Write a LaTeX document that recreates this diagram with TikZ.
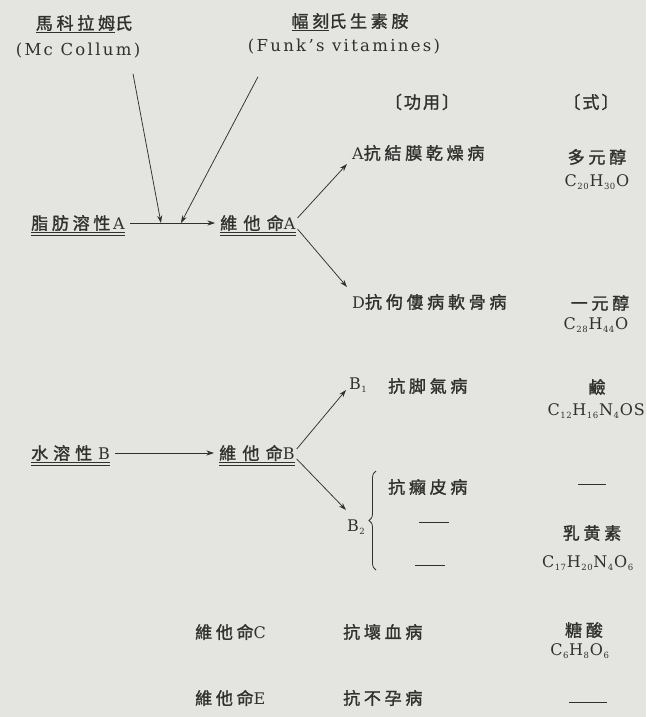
\documentclass[tikz,border=0pt]{standalone}
\usepackage{fontspec}
\usetikzlibrary{arrows.meta,calc,decorations.pathreplacing}
\setmainfont{DejaVu Serif}
\newfontfamily\cjkf{Noto Sans CJK TC}[LetterSpace=22,FakeBold=1.5]
\newfontfamily\cjkwf{Noto Sans CJK TC}[LetterSpace=37,FakeBold=1.5]
\newfontfamily\cjkhf{Noto Sans CJK TC}[LetterSpace=12,FakeBold=1.5]
\newcommand\cjk{\fontsize{17}{20}\selectfont\cjkf}
\newcommand\cjkw{\fontsize{17}{20}\selectfont\cjkwf}
\newcommand\cjkh{\fontsize{17}{20}\selectfont\cjkhf}
\newfontfamily\latf{DejaVu Serif}[LetterSpace=14]
\newcommand\lat{\fontsize{16.5}{19}\selectfont\latf}
\newfontfamily\fml{DejaVu Serif}[LetterSpace=6]
\newcommand\fs{\fontsize{16}{19}\selectfont}
\newcommand\sbs[1]{\kern0.5pt\raisebox{-3.5pt}{\fontsize{8.5}{9}\selectfont\fml #1}\kern0.8pt}
\definecolor{bg}{RGB}{228,228,224}
\definecolor{ink}{RGB}{48,48,46}
\tikzset{
  txt/.style={inner sep=0pt, text=ink, font=\fs},
  lft/.style={txt, anchor=west},
  arr/.style={draw=ink, line width=0.75pt, -{Stealth[length=7.5pt,width=5pt]}},
  ulA/.style={draw=ink, line width=0.9pt},
  ulB/.style={draw=ink, line width=0.6pt},
}
\begin{document}
\begin{tikzpicture}[x=1pt,y=-1pt]
\fill[bg] (0,0) rectangle (646,717);
\useasboundingbox (0,0) rectangle (646,717);

% top sources
\node[txt] (mc)  at (84,24) {\cjk\underline{馬科拉姆}氏};
\node[txt] (mcl) at (78,51) {\lat (Mc Collum)};
\node[txt] (fk)  at (350,22) {\cjk\underline{幅刻}氏生素胺};
\node[txt] (fkl) at (344,47) {\lat (Funk’s vitamines)};

% headers
\node[txt] (hd1) at (422,102) {\cjkh 〔功用〕};
\node[txt] (hd2) at (591,102) {\cjkh 〔式〕};

% vitamin A row
\node[lft] (fatA) at (31,223) {{\cjk 脂肪溶性}\,A};
\node[lft] (vitA) at (220,223) {{\cjkw 維他命}A};
\draw[ulA] ([yshift=-1.5pt]fatA.south west) -- ([yshift=-1.5pt]fatA.south east);
\draw[ulB] ([yshift=-4pt]fatA.south west) -- ([yshift=-4pt]fatA.south east);
\draw[ulA] ([yshift=-1.5pt]vitA.south west) -- ([yshift=-1.5pt]vitA.south east);
\draw[ulB] ([yshift=-4pt]vitA.south west) -- ([yshift=-4pt]vitA.south east);

\coordinate (m1) at ($(fatA.east)!0.38!(vitA.west)$);
\coordinate (m2) at ($(fatA.east)!0.59!(vitA.west)$);
\draw[arr] ([xshift=5pt]fatA.east) -- ([xshift=-5pt]vitA.west);
\draw[arr] ([shift={(55,15)}]mcl.south) -- (m1);
\draw[arr] ([shift={(-86,22)}]fkl.south) -- (m2);

\node[lft] (a1) at (352,153) {A{\cjk 抗結膜乾燥病}};
\node[lft] (d1) at (352,302) {D{\cjk 抗佝僂病軟骨病}};
\draw[arr] ([shift={(2,-5)}]vitA.east) -- ([shift={(-5,11)}]a1.west);
\draw[arr] ([shift={(2,6)}]vitA.east) -- ([shift={(-5,-15)}]d1.west);

\node[txt] (fa1) at (597,157) {\cjk 多元醇};
\node[txt] (fa2) at (597,182) {\fml C\sbs{20}H\sbs{30}O};
\node[txt] (fd1) at (600,303) {\cjk 一元醇};
\node[txt] (fd2) at (596,325) {\fml C\sbs{28}H\sbs{44}O};

% vitamin B row
\node[lft] (watB) at (31,453) {{\cjk 水\hspace{5pt}溶\hspace{5pt}性}\hspace{6pt}B};
\node[lft] (vitB) at (219,453) {{\cjkw 維他命}B};
\draw[ulA] ([yshift=-1.5pt]watB.south west) -- ([yshift=-1.5pt]watB.south east);
\draw[ulB] ([yshift=-4pt]watB.south west) -- ([yshift=-4pt]watB.south east);
\draw[ulA] ([yshift=-1.5pt]vitB.south west) -- ([yshift=-1.5pt]vitB.south east);
\draw[ulB] ([yshift=-4pt]vitB.south west) -- ([yshift=-4pt]vitB.south east);
\draw[arr] ([xshift=5pt]watB.east) -- ([xshift=-5pt]vitB.west);

\node[lft] (b1)  at (349,385) {B\sbs{1}};
\node[lft] (b1t) at (388,386) {\cjk 抗脚氣病};
\draw[arr] ([shift={(2,-4)}]vitB.east) -- ([shift={(-3,5)}]b1.west);

\node[lft] (b2)  at (347,527) {B\sbs{2}};
\draw[arr] ([shift={(2,6)}]vitB.east) -- ([shift={(-1,-17)}]b2.west);
\coordinate (brb) at ([shift={(29,43)}]b2.west);
\coordinate (brt) at ([shift={(29,-56)}]b2.west);
\draw[draw=ink, line width=0.8pt, decorate, decoration={brace, amplitude=7pt}] (brb) -- (brt);

\node[lft] (b2t) at (388,487) {\cjk 抗癩皮病};
\node[txt] (b2d1) at (434,525) {\rule[0.3em]{30pt}{0.9pt}};
\node[txt] (b2d2) at (430,568) {\rule[0.3em]{30pt}{0.9pt}};

\node[txt] (fb1) at (597,387) {\cjk 鹼};
\node[txt, anchor=east] (fb2) at (645,411) {\fml C\sbs{12}H\sbs{16}N\sbs{4}OS};
\node[txt] (fb3) at (592,487) {\rule[0.3em]{28pt}{0.6pt}};
\node[txt] (fb4) at (592,533) {\cjk 乳黄素};
\node[txt] (fb5) at (588,563) {\fml C\sbs{17}H\sbs{20}N\sbs{4}O\sbs{6}};

% vitamin C and E
\node[lft] (vitC)  at (195,632) {{\cjk 維他命}C};
\node[lft] (antiC) at (343,632) {\cjk 抗壞血病};
\node[txt] (fc1) at (584,630) {\cjk 糖酸};
\node[txt] (fc2) at (580,651) {\fml C\sbs{6}H\sbs{8}O\sbs{6}};

\node[lft] (vitE)  at (195,698) {{\cjk 維他命}E};
\node[lft] (antiE) at (343,698) {\cjk 抗不孕病};
\node[txt] (fe) at (588,705) {\rule[0.3em]{38pt}{1.1pt}};
\end{tikzpicture}
\end{document}
